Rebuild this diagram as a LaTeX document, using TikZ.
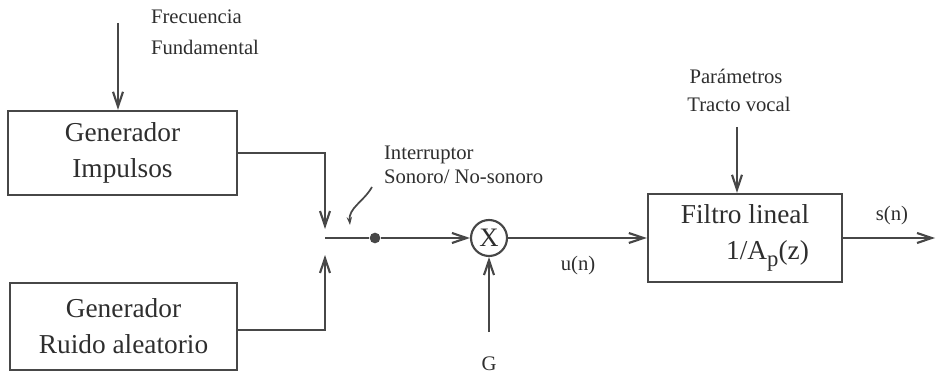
\documentclass[tikz,border=0pt]{standalone}
\usepackage{fontspec}
\setmainfont{Liberation Serif}
\usetikzlibrary{arrows.meta,positioning}
\tikzset{
  bloque/.style={draw, line width=1.8pt, inner sep=0pt, align=center,
    font=\fontsize{20.5}{27}\selectfont},
  etiqueta/.style={inner sep=0pt, font=\fontsize{15.5}{18}\selectfont},
  flecha/.style={-{Straight Barb[length=11pt,width=7.5pt]}},
}
\begin{document}
\begin{tikzpicture}[x=0.75pt, y=-0.75pt, line width=1.6pt, draw=black!72, text=black!82]
        \useasboundingbox (0,0) rectangle (937,374);
        % blocks
        \node[bloque, minimum width=171.75pt, minimum height=63pt] (imp) at (122.5,153) {Generador\\Impulsos};
        \node[bloque, minimum width=170pt, minimum height=65pt] (ruido) at (123.5,326.5) {Generador\\Ruido aleatorio};
        \node[draw, circle, minimum size=27pt, inner sep=0pt, font=\fontsize{20}{20}\selectfont] (mult) at (489,238) {X};
        \node[bloque, minimum width=145.5pt, minimum height=66pt, align=left] (filtro) at (745,238)
            {Filtro lineal\\\hspace*{34pt}1/A\raisebox{-5pt}{\fontsize{17}{17}\selectfont p}(z)};
        % labels
        \node[etiqueta, anchor=base west] (frec) at (150,24) {Frecuencia};
        \node[etiqueta, anchor=base west] (fund) at (150,55) {Fundamental};
        \node[etiqueta, anchor=base west] (inter) at (383,159) {Interruptor};
        \node[etiqueta, anchor=base west] (sonoro) at (383,183) {Sonoro/ No-sonoro};
        \node[etiqueta, anchor=base] (param) at (736,84) {Parámetros};
        \node[etiqueta, anchor=base] (tracto) at (739,112) {Tracto vocal};
        \node[etiqueta, anchor=base] (un) at (578,270) {u(n)};
        \node[etiqueta, anchor=base] (sn) at (892,220) {s(n)};
        \node[etiqueta, anchor=base] (g) at (489,370) {G};
        % inputs from above
        \coordinate (fTop) at (118,23);
        \draw[flecha] (fTop) -- (fTop |- imp.north);
        \coordinate (pTop) at (737,127);
        \draw[flecha] (pTop) -- (pTop |- filtro.north);
        % switch
        \coordinate (swA) at (325,229);
        \coordinate (swB) at (325,255);
        \coordinate (swC) at (325,238);
        \draw[flecha] (imp.east) -| (swA);
        \draw[flecha] ([yshift=-2.6pt]ruido.east) -| (swB);
        \node[circle, fill=black!72, inner sep=0pt, minimum size=8pt] (punto) at (375,238) {};
        \draw (swC) -- (punto);
        \draw[flecha] (punto) -- (mult);
        \coordinate (iA) at (372,187);
        \coordinate (iB) at (350,225);
        \draw[-{Stealth[length=6pt,width=4pt]}, line width=1.3pt] (iA) to[out=240, in=95] (iB);
        % gain
        \coordinate (gBot) at (489,332);
        \draw[flecha] (gBot) -- (mult.south);
        % filter
        \draw[flecha] (mult) -- (filtro.west);
        \coordinate (sal) at (935,238);
        \draw[flecha] (filtro.east) -- (sal);
    \end{tikzpicture}
\end{document}
